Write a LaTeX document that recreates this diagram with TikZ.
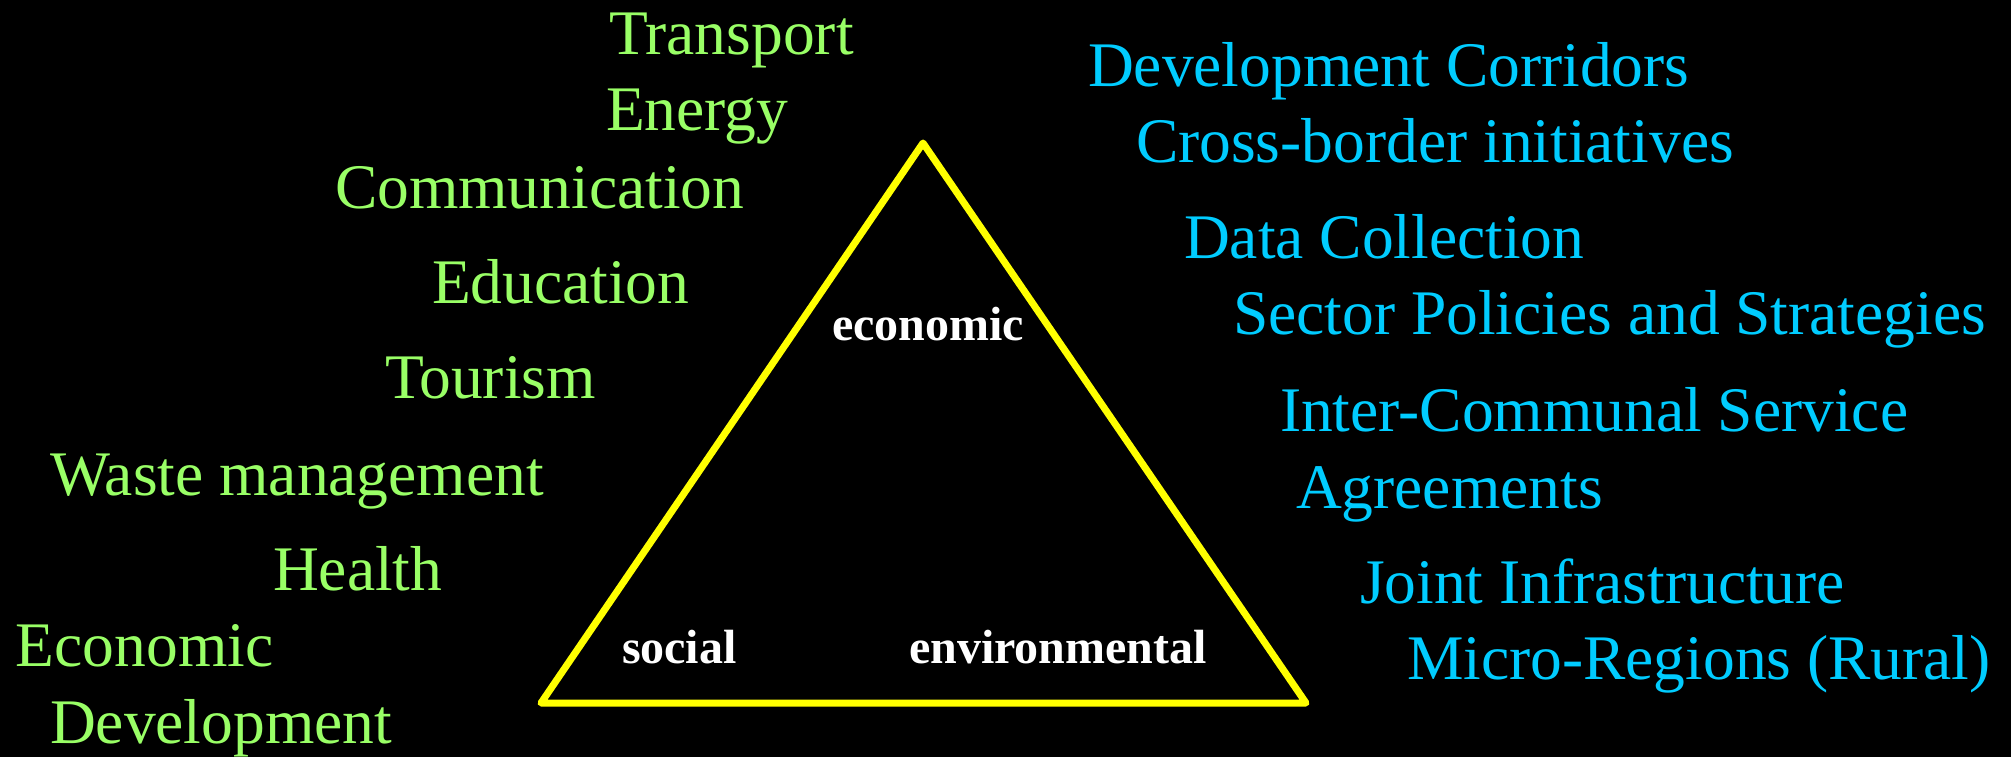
\documentclass[tikz,border=0pt]{standalone}
\usepackage{fontspec}
\setmainfont{Liberation Serif}
\definecolor{itemgreen}{RGB}{153,255,102}
\definecolor{itemcyan}{RGB}{0,204,255}
\definecolor{triyellow}{RGB}{255,255,0}
\begin{document}
\begin{tikzpicture}[x=1pt,y=-1pt,
  base/.style={anchor=base west,inner sep=0pt,outer sep=0pt},
  leftitem/.style={base,text=itemgreen,font=\fontsize{63.5}{70}\selectfont},
  rightitem/.style={base,text=itemcyan,font=\fontsize{63.5}{70}\selectfont},
  corner/.style={base,text=white,font=\fontsize{48}{54}\selectfont\bfseries},
  tri/.style={draw=triyellow,line width=7pt,line join=round,line cap=round}]
\fill[black] (0,0) rectangle (2011,757);
\useasboundingbox (0,0) rectangle (2011,757);
% triangle
\coordinate (apex) at (923,143);
\coordinate (bl) at (541,703);
\coordinate (br) at (1306,703);
\draw[tri] (apex) -- (br) -- (bl) -- cycle;
% corner labels
\node[corner] (econ) at (832,340) {economic};
\node[corner] (soc) at (622,663) {social};
\node[corner] (env) at (909,663) {environmental};
% left items
\node[leftitem] (l1) at (609,55) {Transport};
\node[leftitem] (l2) at (606,131) {Energy};
\node[leftitem] (l3) at (335,208) {Communication};
\node[leftitem] (l4) at (432,303) {Education};
\node[leftitem] (l5) at (385,398) {Tourism};
\node[leftitem] (l6) at (50,495) {Waste management};
\node[leftitem] (l7) at (273,590) {Health};
\node[leftitem] (l8) at (16,666) {Economic};
\node[leftitem] (l9) at (50,743) {Development};
% right items
\node[rightitem] (r1) at (1088,87) {Development Corridors};
\node[rightitem] (r2) at (1136,163) {Cross-border initiatives};
\node[rightitem] (r3) at (1184,258) {Data Collection};
\node[rightitem] (r4) at (1233,334) {Sector Policies and Strategies};
\node[rightitem] (r5) at (1280,431) {Inter-Communal Service};
\node[rightitem] (r6) at (1296,508) {Agreements};
\node[rightitem] (r7) at (1360,603) {Joint Infrastructure};
\node[rightitem] (r8) at (1407,679) {Micro-Regions (Rural)};
\end{tikzpicture}
\end{document}
